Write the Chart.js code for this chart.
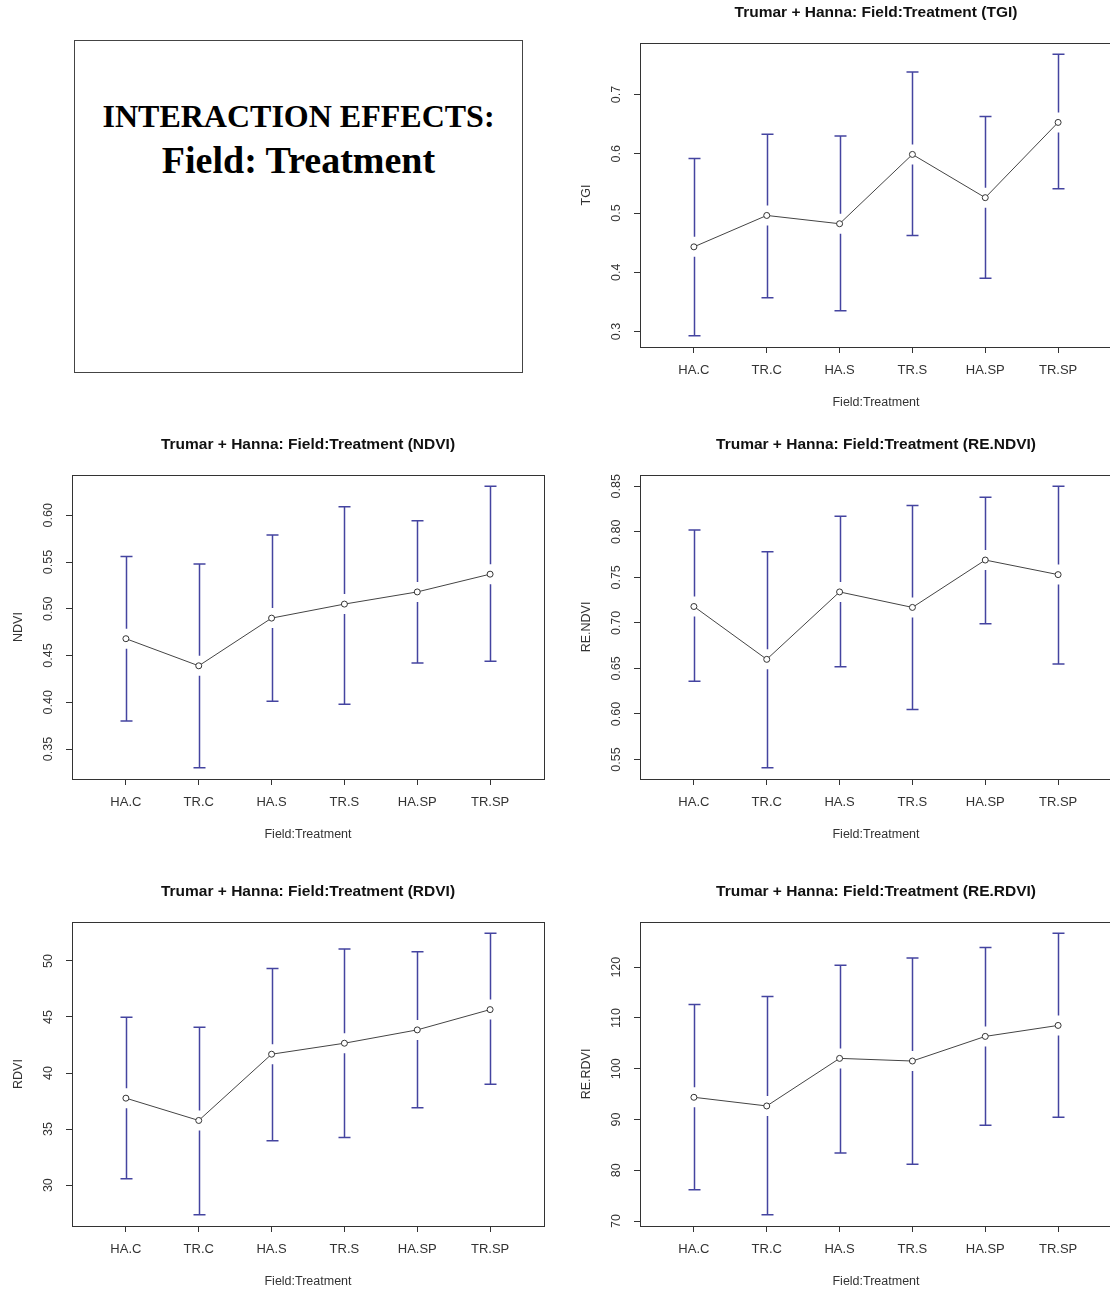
<!DOCTYPE html>
<html>
<head>
<meta charset="utf-8">
<script src="https://cdn.jsdelivr.net/npm/chart.js@4.4.1/dist/chart.umd.min.js"></script>
<style>
  body { margin: 0; width: 1110px; height: 1289px; overflow: hidden; background: #fff; position: relative; }
  canvas { position: absolute; }
  #note { position: absolute; left: 74px; top: 40px; width: 449px; height: 333px; box-sizing: border-box;
          border: 1px solid #444; font-family: "Liberation Serif", "Times New Roman", serif; font-weight: bold; color: #000; }
  #note div { position: absolute; left: 0; right: 0; text-align: center; line-height: 1; white-space: nowrap; }
  #note .l1 { top: 59px; font-size: 32px; }
  #note .l2 { top: 100px; font-size: 38px; }
</style>
</head>
<body>
<div id="note"><div class="l1">INTERACTION EFFECTS:</div><div class="l2">Field: Treatment</div></div>
<canvas id="tgi" width="568" height="430" style="left:555px;top:-2px"></canvas>
<canvas id="ndvi" width="555" height="430" style="left:0px;top:430px"></canvas>
<canvas id="rendvi" width="568" height="430" style="left:555px;top:430px"></canvas>
<canvas id="rdvi" width="555" height="430" style="left:0px;top:877px"></canvas>
<canvas id="rerdvi" width="568" height="430" style="left:555px;top:877px"></canvas>
<script>
// field:treatment groups, in plot order
const categories = ['HA.C', 'TR.C', 'HA.S', 'TR.S', 'HA.SP', 'TR.SP'];

// TGI
const tgiMean  = [0.443, 0.496, 0.482, 0.599, 0.526, 0.653];
const tgiUpper = [0.592, 0.633, 0.630, 0.738, 0.663, 0.768];
const tgiLower = [0.293, 0.357, 0.335, 0.462, 0.390, 0.541];
const tgiTicks = [0.3, 0.4, 0.5, 0.6, 0.7];

// NDVI
const ndviMean  = [0.468, 0.439, 0.490, 0.505, 0.518, 0.537];
const ndviUpper = [0.556, 0.548, 0.579, 0.609, 0.594, 0.631];
const ndviLower = [0.380, 0.330, 0.401, 0.398, 0.442, 0.444];
const ndviTicks = [0.35, 0.40, 0.45, 0.50, 0.55, 0.60];

// RE.NDVI
const rendviMean  = [0.718, 0.660, 0.734, 0.717, 0.769, 0.753];
const rendviUpper = [0.802, 0.778, 0.817, 0.829, 0.838, 0.850];
const rendviLower = [0.636, 0.541, 0.652, 0.605, 0.699, 0.655];
const rendviTicks = [0.55, 0.60, 0.65, 0.70, 0.75, 0.80, 0.85];

// RDVI
const rdviMean  = [37.76, 35.77, 41.68, 42.66, 43.85, 45.66];
const rdviUpper = [44.98, 44.09, 49.32, 51.07, 50.83, 52.47];
const rdviLower = [30.56, 27.36, 33.95, 34.25, 36.90, 39.00];
const rdviTicks = [30, 35, 40, 45, 50];

// RE.RDVI
const rerdviMean  = [94.38, 92.67, 102.04, 101.52, 106.37, 108.53];
const rerdviUpper = [112.66, 114.23, 120.39, 121.83, 123.87, 126.68];
const rerdviLower = [76.16, 71.25, 83.43, 81.21, 88.87, 90.45];
const rerdviTicks = [70, 80, 90, 100, 110, 120];

const FONT = '"Liberation Sans", Arial, sans-serif';
const BAR_COLOR = '#4444a0';

// error bars (plotCI style, with a gap round the point)
const errorBars = {
  id: 'errorBars',
  beforeDatasetsDraw(chart, args, opts) {
    const {ctx, scales: {x, y}} = chart;
    ctx.save();
    ctx.strokeStyle = BAR_COLOR;
    ctx.lineWidth = 1.5;
    opts.mean.forEach((m, i) => {
      const px = Math.round(x.getPixelForValue(i + 1)) + 0.5;
      const pm = y.getPixelForValue(m);
      const pu = y.getPixelForValue(opts.upper[i]);
      const pl = y.getPixelForValue(opts.lower[i]);
      ctx.beginPath();
      ctx.moveTo(px, pu); ctx.lineTo(px, pm - 10);
      ctx.moveTo(px, pm + 10); ctx.lineTo(px, pl);
      ctx.moveTo(px - 6, pu); ctx.lineTo(px + 6, pu);
      ctx.moveTo(px - 6, pl); ctx.lineTo(px + 6, pl);
      ctx.stroke();
    });
    ctx.restore();
  }
};

// box round the plot region + vertical y tick labels, like base R
const rFrame = {
  id: 'rFrame',
  afterDraw(chart, args, opts) {
    const {ctx, chartArea: a, scales: {y}} = chart;
    ctx.save();
    ctx.strokeStyle = '#333';
    ctx.lineWidth = 1;
    ctx.strokeRect(Math.round(a.left) + 0.5, Math.round(a.top) + 0.5,
                   Math.round(a.right - a.left), Math.round(a.bottom - a.top));
    ctx.font = '12.5px ' + FONT;
    ctx.fillStyle = '#333';
    ctx.textAlign = 'center';
    ctx.textBaseline = 'middle';
    y.ticks.forEach(t => {
      ctx.save();
      ctx.translate(a.left - 23, y.getPixelForValue(t.value));
      ctx.rotate(-Math.PI / 2);
      ctx.fillText(t.value.toFixed(opts.digits), 0, 0);
      ctx.restore();
    });
    ctx.restore();
  }
};

function makePlot(id, title, yTitle, mean, upper, lower, ticks, digits, padLeft) {
  // axis limits as R does: data range plus 4%
  const lo = Math.min(...lower), hi = Math.max(...upper);
  const ext = (hi - lo) * 0.04;
  const xExt = categories.length * 0.04;

  new Chart(document.getElementById(id), {
    type: 'line',
    data: {
      datasets: [{
        data: mean.map((v, i) => ({x: i + 1, y: v})),
        borderColor: '#444',
        borderWidth: 1,
        pointRadius: 3,
        pointBorderWidth: 1,
        pointBorderColor: '#333',
        pointBackgroundColor: '#fff',
        tension: 0
      }]
    },
    options: {
      responsive: false,
      animation: false,
      devicePixelRatio: 1,
      layout: {autoPadding: false, padding: {left: padLeft, right: 11, top: 0, bottom: 0}},
      plugins: {
        legend: {display: false},
        tooltip: {enabled: false},
        title: {
          display: true, text: title, fullSize: false, color: '#111',
          font: {family: FONT, size: 15.5, weight: 'bold', lineHeight: 1.2},
          padding: {top: 5, bottom: 21.4}
        },
        errorBars: {mean, upper, lower},
        rFrame: {digits}
      },
      scales: {
        x: {
          type: 'linear',
          min: 0.5 - xExt, max: categories.length + 0.5 + xExt,
          afterBuildTicks: s => { s.ticks = categories.map((c, i) => ({value: i + 1})); },
          afterFit: s => { s.height = 81; },
          border: {display: false},
          grid: {drawOnChartArea: false, drawTicks: true, tickLength: 6, color: '#333'},
          ticks: {
            callback: v => categories[v - 1],
            color: '#333', font: {family: FONT, size: 13}, padding: 10,
            maxRotation: 0, autoSkip: false
          },
          title: {display: true, text: 'Field:Treatment', color: '#333',
                  font: {family: FONT, size: 12.5}, padding: {top: 0, bottom: 18}}
        },
        y: {
          min: lo - ext, max: hi + ext,
          afterBuildTicks: s => { s.ticks = ticks.map(v => ({value: v})); },
          afterFit: s => { s.width = 72; },
          border: {display: false},
          grid: {drawOnChartArea: false, drawTicks: true, tickLength: 6, color: '#333'},
          ticks: {display: false},
          title: {display: true, text: yTitle, color: '#333',
                  font: {family: FONT, size: 12.5}, padding: {top: 11, bottom: 0}}
        }
      }
    },
    plugins: [errorBars, rFrame]
  });
}

makePlot('tgi', 'Trumar + Hanna: Field:Treatment (TGI)', 'TGI', tgiMean, tgiUpper, tgiLower, tgiTicks, 1, 13);
makePlot('ndvi', 'Trumar + Hanna: Field:Treatment (NDVI)', 'NDVI', ndviMean, ndviUpper, ndviLower, ndviTicks, 2, 0);
makePlot('rendvi', 'Trumar + Hanna: Field:Treatment (RE.NDVI)', 'RE.NDVI', rendviMean, rendviUpper, rendviLower, rendviTicks, 2, 13);
makePlot('rdvi', 'Trumar + Hanna: Field:Treatment (RDVI)', 'RDVI', rdviMean, rdviUpper, rdviLower, rdviTicks, 0, 0);
makePlot('rerdvi', 'Trumar + Hanna: Field:Treatment (RE.RDVI)', 'RE.RDVI', rerdviMean, rerdviUpper, rerdviLower, rerdviTicks, 0, 13);
</script>
</body>
</html>
